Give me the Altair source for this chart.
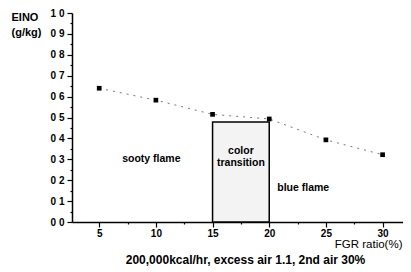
import altair as alt
import pandas as pd

fgr = [5, 10, 15, 20, 25, 30]
eino = [0.64, 0.583, 0.515, 0.493, 0.393, 0.322]

box_x = [15]
box_x2 = [20]
box_top = [0.478]

ann_text = ["sooty flame", "color", "transition", "blue flame"]
ann_x = [9.6, 17.5, 17.5, 23.0]
ann_y = [0.30, 0.34, 0.283, 0.165]

x_ticks = [5, 7.5, 10, 12.5, 15, 17.5, 20, 22.5, 25, 27.5, 30]
y_ticks = [round(i * 0.05, 2) for i in range(21)]

FONT = "Liberation Sans"

pts = pd.DataFrame({"fgr": fgr, "eino": eino})
box = pd.DataFrame({"x": box_x, "x2": box_x2, "top": box_top})
ann = pd.DataFrame({"t": ann_text, "x": ann_x, "y": ann_y})

xscale = alt.Scale(domain=[2.6, 31.8], nice=False, zero=False)
yscale = alt.Scale(domain=[0, 1], nice=False)

xaxis = alt.Axis(
    values=x_ticks,
    labelExpr="datum.value % 5 === 0 ? datum.label : ''",
    tickSize={"condition": {"test": "datum.value % 5 === 0", "value": 5}, "value": 2},
    grid=False,
    labelOverlap=False,
    title="FGR ratio(%)",
    titleAnchor="end",
    titleAlign="right",
    titleX=330,
    titleY=16,
    titleFontWeight="normal",
    titleFontSize=11.5,
    labelFontSize=10,
    labelFontWeight="bold",
    labelPadding=1,
)
yaxis = alt.Axis(
    values=y_ticks,
    labelExpr="round(datum.value*100) % 10 === 0 ? replace(format(datum.value, '.1f'), '.', ' ') : ''",
    tickSize={"condition": {"test": "round(datum.value*100) % 10 === 0", "value": 5}, "value": 2},
    grid=False,
    labelOverlap=False,
    labelBound=False,
    title=["EINO", "(g/kg)"],
    titleAngle=0,
    titleAlign="left",
    titleBaseline="top",
    titleX=-61,
    titleY=-2,
    titleLineHeight=15,
    titleFontSize=11,
    titleFontWeight="bold",
    labelFontSize=10,
    labelFontWeight="bold",
    labelPadding=3,
)

rect = alt.Chart(box).mark_rect(
    fill="#f3f3f3", stroke="black", strokeWidth=1.5
).encode(
    x=alt.X("x:Q", scale=xscale, axis=xaxis),
    x2="x2:Q",
    y=alt.Y("top:Q", scale=yscale, axis=yaxis),
    y2=alt.datum(0),
)

line = alt.Chart(pts).mark_line(
    color="#777777", strokeWidth=1, strokeDash=[2, 5]
).encode(
    x=alt.X("fgr:Q", scale=xscale, axis=xaxis),
    y=alt.Y("eino:Q", scale=yscale, axis=yaxis),
)

sq = alt.Chart(pts).mark_square(color="black", size=22, opacity=1).encode(
    x=alt.X("fgr:Q", scale=xscale, axis=xaxis),
    y=alt.Y("eino:Q", scale=yscale, axis=yaxis),
)

txt = alt.Chart(ann).mark_text(
    font=FONT, fontSize=10.5, fontWeight="bold", color="black", align="center"
).encode(
    x=alt.X("x:Q", scale=xscale, axis=xaxis),
    y=alt.Y("y:Q", scale=yscale, axis=yaxis),
    text="t:N",
)

chart = alt.layer(rect, line, sq, txt).properties(
    width=331,
    height=209,
    autosize=alt.AutoSizeParams(type="none"),
    padding={"left": 64, "top": 5, "right": 0, "bottom": 50},
    title=alt.TitleParams(
        "200,000kcal/hr, excess air 1.1, 2nd air 30%",
        orient="bottom",
        anchor="middle",
        offset=5,
        dx=8,
        fontSize=12,
        fontWeight="bold",
        font=FONT,
    ),
).configure(font=FONT).configure_axis(
    domainColor="black",
    domainWidth=1.5,
    tickColor="black",
    tickWidth=1.2,
    labelColor="black",
    titleColor="black",
    labelFont=FONT,
    titleFont=FONT,
    labelOverlap=False,
).configure_view(stroke=None)

chart.save("out.html", embed_options={"renderer": "svg", "actions": False})
